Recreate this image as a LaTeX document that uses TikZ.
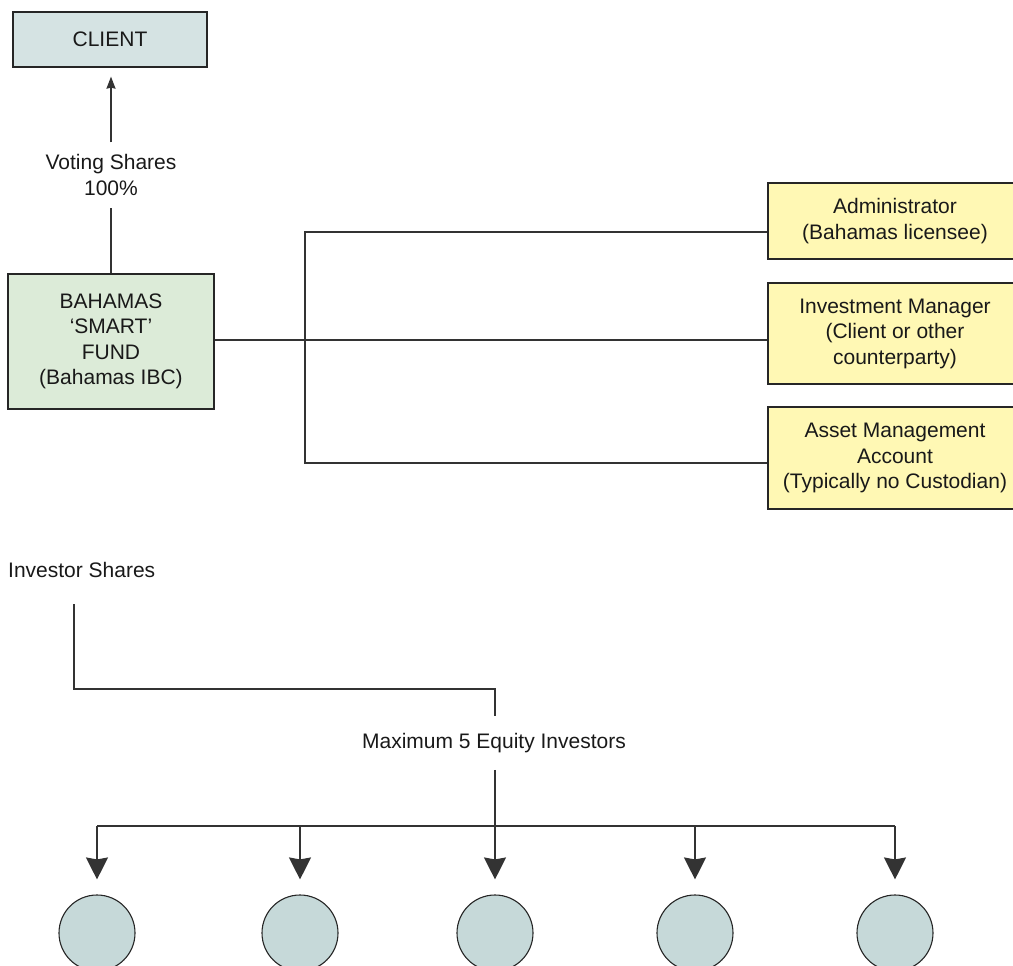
\documentclass[tikz,border=0pt]{standalone}
\usepackage{fontspec}
\setmainfont{Liberation Sans}
\usetikzlibrary{arrows.meta}
\definecolor{clientfill}{HTML}{D5E3E3}
\definecolor{fundfill}{HTML}{DCEBD8}
\definecolor{agentfill}{HTML}{FFF8B4}
\definecolor{investorfill}{HTML}{C6D9D9}
\definecolor{linegray}{HTML}{333333}
\begin{document}
\begin{tikzpicture}
                [x=1pt, y=-1pt,
                 every node/.style={font=\fontsize{21}{25.5}\selectfont, text=black!90},
                 box/.style={rectangle, draw=black!85, line width=1.3pt, align=center, inner sep=0pt},
                 agent/.style={box, fill=agentfill, minimum width=254pt},
                 investor/.style={circle, draw=black!85, line width=1.1pt, fill=investorfill, minimum size=76pt, inner sep=0pt},
                 label/.style={draw=none, fill=none, align=center},
                 edge/.style={draw=linegray, line width=1.4pt}]
                \useasboundingbox (0,0) rectangle (1013,966);
                \clip (0,0) rectangle (1013,966);
                % Define nodes
                \node[box, fill=clientfill, minimum width=194pt, minimum height=55pt] (client) at (110,39.5) {CLIENT};
                \node[label, inner ysep=12pt] (vote) at (111,175) {Voting Shares\\100\%};
                \node[box, fill=fundfill, minimum width=206pt, minimum height=135pt] (fund) at (111,341.5) {BAHAMAS\\‘SMART’\\FUND\\(Bahamas IBC)};
                \node[agent, minimum height=76pt] (admin) at (895,221) {Administrator\\(Bahamas licensee)};
                \node[agent, minimum height=101pt] (manager) at (895,333.5) {Investment Manager\\(Client or other\\counterparty)};
                \node[agent, minimum height=102pt] (asset) at (895,458) {Asset Management\\Account\\(Typically no Custodian)};
                \node[label, anchor=west, inner sep=0pt] (invshares) at (8,570) {Investor Shares};
                \coordinate (isfoot) at (74,604);
                \coordinate (spine) at (305,340);
                \node[label, inner ysep=17pt] (maxinv) at (494,743) {Maximum 5 Equity Investors};
                \coordinate (bus) at (495,826);
                \foreach \i/\x in {1/97, 2/300, 3/495, 4/695, 5/895}
                    \node[investor] (inv\i) at (\x,933) {};
                % Define edges
                \draw[edge, -{Stealth[length=12pt, width=9pt, inset=1pt]}, shorten >=9pt] (vote.north) -- (vote.north |- client.south);
                \draw[edge] (fund.north) -- (vote.south);
                \draw[edge] (fund.east |- spine) -- (manager.west |- spine);
                \draw[edge] ([yshift=-11pt]admin.west) -| (spine) |- ([yshift=-5pt]asset.west);
                \draw[edge] (isfoot) -- ++(0,85) -| (maxinv.north -| bus);
                \draw[edge] (inv1.north |- bus) -- (inv5.north |- bus);
                \draw[edge] (maxinv.south -| bus) -- (bus);
                \foreach \i in {1,...,5}
                    \draw[edge, -{Stealth[length=22pt, width=22pt, inset=2pt]}, shorten >=15pt] (inv\i.north |- bus) -- (inv\i.north);
            \end{tikzpicture}
\end{document}
